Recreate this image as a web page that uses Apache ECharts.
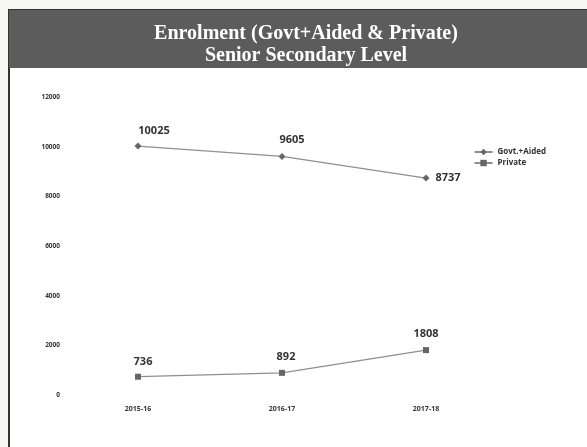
<!DOCTYPE html>
<html>
<head>
<meta charset="utf-8">
<style>
  html, body { margin: 0; padding: 0; background: #f4f4f2; }
  #chart { width: 587px; height: 447px; }
</style>
<script src="https://cdn.jsdelivr.net/npm/echarts@6/dist/echarts.min.js"></script>
</head>
<body>
<div id="chart"></div>
<script>
// Enrolment by academic year, senior secondary level
const years = ['2015-16', '2016-17', '2017-18'];
const govtAided = [10025, 9605, 8737];
const privateSchools = [736, 892, 1808];
const yTicks = [0, 2000, 4000, 6000, 8000, 10000, 12000];

const chart = echarts.init(document.getElementById('chart'));

const labelStyle = {
  show: true,
  color: '#333',
  fontFamily: 'Open Sans',
  fontWeight: 'bold',
  fontSize: 11
};

// Per-point label placement for each series
const govtLabels = [
  { position: 'top', distance: 6, offset: [16, 0] },
  { position: 'top', distance: 8, offset: [10, 0] },
  { position: 'right', distance: 6, offset: [0, 0] }
];
const privateLabels = [
  { position: 'top', distance: 6, offset: [5, 0] },
  { position: 'top', distance: 7, offset: [4, 0] },
  { position: 'top', distance: 8, offset: [0, 0] }
];

chart.setOption({
  backgroundColor: '#f6f6f4',
  animation: false,
  title: {
    text: 'Enrolment (Govt+Aided & Private)\nSenior Secondary Level',
    left: 301,
    top: 18,
    textAlign: 'center',
    textStyle: {
      color: '#ffffff',
      fontFamily: 'Liberation Serif',
      fontWeight: 'bold',
      fontSize: 20,
      lineHeight: 22
    }
  },
  graphic: [
    {
      type: 'rect',
      z: -1,
      shape: { x: 9, y: 10, width: 590, height: 445 },
      style: { fill: '#ffffff', stroke: '#333', lineWidth: 2 }
    },
    {
      type: 'rect',
      z: 0,
      shape: { x: 9, y: 10, width: 590, height: 58 },
      style: { fill: '#5c5c5c' }
    }
  ],
  legend: {
    right: 36,
    top: 143,
    orient: 'vertical',
    itemGap: 3,
    itemWidth: 18,
    itemHeight: 8,
    textStyle: { color: '#333', fontSize: 8, fontWeight: 'bold', fontFamily: 'Open Sans' },
    data: ['Govt.+Aided', 'Private']
  },
  grid: { left: 66, right: 89, top: 97, bottom: 52 },
  xAxis: {
    type: 'category',
    data: years,
    boundaryGap: true,
    axisLine: { show: false },
    axisTick: { show: false },
    axisLabel: {
      color: '#333',
      fontSize: 7,
      fontWeight: 'bold',
      fontFamily: 'Open Sans',
      margin: 10
    }
  },
  yAxis: {
    type: 'value',
    min: yTicks[0],
    max: yTicks[yTicks.length - 1],
    interval: 2000,
    axisLine: { show: false },
    axisTick: { show: false },
    splitLine: { show: false },
    axisLabel: {
      color: '#333',
      fontSize: 6.5,
      fontWeight: 'bold',
      fontFamily: 'Open Sans',
      margin: 6,
      formatter: function (v) { return String(v); }
    }
  },
  series: [
    {
      name: 'Govt.+Aided',
      type: 'line',
      data: govtAided.map(function (v, i) {
        return { value: v, label: govtLabels[i] };
      }),
      symbol: 'diamond',
      symbolSize: 7,
      itemStyle: { color: '#666' },
      lineStyle: { color: '#8f8f8f', width: 1.3 },
      label: labelStyle
    },
    {
      name: 'Private',
      type: 'line',
      data: privateSchools.map(function (v, i) {
        return { value: v, label: privateLabels[i] };
      }),
      symbol: 'rect',
      symbolSize: 6,
      itemStyle: { color: '#666' },
      lineStyle: { color: '#8f8f8f', width: 1.3 },
      label: labelStyle
    }
  ]
});
</script>
</body>
</html>
